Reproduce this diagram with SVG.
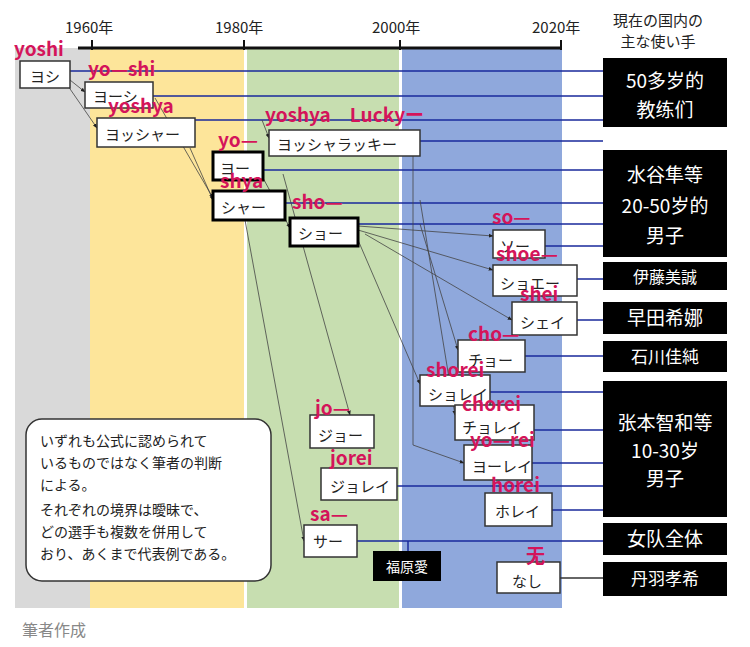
<svg xmlns="http://www.w3.org/2000/svg" width="750" height="647" viewBox="0 0 750 647">
<defs>
<style>
text{font-family:"Noto Sans CJK JP","Noto Sans",sans-serif}
.yr{font-size:15px;fill:#222}
.lb{font-size:19px;font-weight:bold;fill:#d4145a;transform:translateY(-2px)}
.kn{font-size:15px;fill:#222;transform:translateY(1px)}
.nb rect{fill:#fff;stroke:#333;stroke-width:1.5}
.nb.thick rect{stroke:#000;stroke-width:3}
.bk rect{fill:#000}
.bk text{fill:#fff;font-size:19px;text-anchor:middle}
.bl{stroke:#1a2a9c;stroke-width:1.5;fill:none}
.gl{stroke:#444;stroke-width:0.8;fill:none;marker-end:url(#ar)}
.note{font-size:14px;fill:#222}
</style>
<marker id="ar" viewBox="0 0 10 10" refX="9" refY="5" markerWidth="6" markerHeight="6" orient="auto"><path d="M0,1L10,5L0,9z" fill="#222"/></marker>
</defs>
<rect width="750" height="647" fill="#fff"/>
<g id="bands">
<rect x="15" y="48" width="75" height="560" fill="#d9d9d9"/>
<rect x="90" y="48" width="154" height="560" fill="#fde59a"/>
<rect x="247" y="48" width="152" height="560" fill="#c7deb0"/>
<rect x="402" y="48" width="160" height="560" fill="#8fa8dc"/>
</g>
<g id="axis">
<line x1="78" y1="48" x2="562" y2="48" stroke="#111" stroke-width="3"/>
<g stroke="#111" stroke-width="2"><line x1="92" y1="40" x2="92" y2="50"/><line x1="244" y1="40" x2="244" y2="50"/><line x1="400" y1="40" x2="400" y2="50"/><line x1="561" y1="40" x2="561" y2="50"/></g>
<text class="yr" x="65" y="33">1960年</text><text class="yr" x="215" y="33">1980年</text><text class="yr" x="372" y="33">2000年</text><text class="yr" x="532" y="33">2020年</text>
<text x="658" y="26" font-size="15" text-anchor="middle" fill="#222">現在の国内の</text>
<text x="658" y="47" font-size="15" text-anchor="middle" fill="#222">主な使い手</text>
</g>
<g id="connectors">
<path class="bl" d="M70,71H603M153,96H603M195,120H603M420,141H603M263,170H603M285,203H603M358,224H603M545,246H603M577,279H603M577,320H603M525,356H603M490,392H603M534,430H603M532,463H603M397,486H603M552,510H603M357,541H603M408,541V551"/>
<path d="M560,578H603" stroke="#333" stroke-width="1.5"/>
<path class="gl" d="M70,80L85,92"/>
<path class="gl" d="M68,86L97,128"/>
<path class="gl" d="M155,98L213,198"/>
<path class="gl" d="M190,148L213,200"/>
<path class="gl" d="M262,120L269,138"/>
<path class="gl" d="M245,220L304,541"/>
<path class="gl" d="M283,174L350,415"/>
<path class="gl" d="M263,178L290,228"/>
<path class="gl" d="M358,226L493,236"/>
<path class="gl" d="M358,230L493,270"/>
<path class="gl" d="M365,234L512,320"/>
<path class="gl" d="M358,240L420,384"/>
<path class="gl" d="M420,224L458,350"/>
<path class="gl" d="M413,156V445L464,463"/>
<path class="gl" d="M420,200L455,415"/>
</g>
<g id="n-yoshi" class="nb"><rect x="20" y="61" width="50" height="27"/><text class="lb" x="14" y="58">yoshi</text><text class="kn" x="30" y="81">ヨシ</text></g>
<g id="n-yooshi" class="nb"><rect x="85" y="82" width="68" height="26"/><text class="lb" x="88" y="78">yo—shi</text><text class="kn" x="93" y="101">ヨーシ</text></g>
<g id="n-yossha" class="nb"><rect x="97" y="118" width="98" height="29"/><text class="lb" x="108" y="115">yoshya</text><text class="kn" x="105" y="139">ヨッシャー</text></g>
<g id="n-lucky" class="nb"><rect x="269" y="130" width="151" height="26"/><text class="lb" x="265" y="124">yoshya　Luckyー</text><text class="kn" x="277" y="149">ヨッシャラッキー</text></g>
<g id="n-yoo" class="nb thick"><rect x="213" y="152" width="50" height="28"/><text class="lb" x="218" y="149">yo—</text><text class="kn" x="220" y="173">ヨー</text></g>
<g id="n-shaa" class="nb thick"><rect x="213" y="191" width="72" height="29"/><text class="lb" x="220" y="190">shya</text><text class="kn" x="221" y="212">シャー</text></g>
<g id="n-shoo" class="nb thick"><rect x="290" y="218" width="68" height="28"/><text class="lb" x="292" y="211">sho—</text><text class="kn" x="298" y="238">ショー</text></g>
<g id="n-soo" class="nb"><rect x="493" y="230" width="52" height="28"/><text class="lb" x="492" y="226">so—</text><text class="kn" x="500" y="251">ソー</text></g>
<g id="n-shoee" class="nb"><rect x="493" y="265" width="84" height="31"/><text class="lb" x="496" y="263">shoe—</text><text class="kn" x="500" y="288">ショエー</text></g>
<g id="n-shei" class="nb"><rect x="512" y="302" width="65" height="33"/><text class="lb" x="520" y="303">shei</text><text class="kn" x="520" y="327">シェイ</text></g>
<g id="n-choo" class="nb"><rect x="458" y="340" width="67" height="32"/><text class="lb" x="468" y="343">cho—</text><text class="kn" x="468" y="365">チョー</text></g>
<g id="n-shorei" class="nb"><rect x="420" y="375" width="70" height="31"/><text class="lb" x="426" y="379">shorei</text><text class="kn" x="428" y="399">ショレイ</text></g>
<g id="n-chorei" class="nb"><rect x="455" y="405" width="79" height="35"/><text class="lb" x="462" y="413">chorei</text><text class="kn" x="462" y="432">チョレイ</text></g>
<g id="n-yoorei" class="nb"><rect x="464" y="445" width="68" height="35"/><text class="lb" x="470" y="449">yo—rei</text><text class="kn" x="472" y="471">ヨーレイ</text></g>
<g id="n-joo" class="nb"><rect x="310" y="415" width="64" height="33"/><text class="lb" x="315" y="417">jo—</text><text class="kn" x="318" y="440">ジョー</text></g>
<g id="n-jorei" class="nb"><rect x="321" y="468" width="76" height="32"/><text class="lb" x="330" y="467">jorei</text><text class="kn" x="330" y="491">ジョレイ</text></g>
<g id="n-horei" class="nb"><rect x="485" y="493" width="67" height="33"/><text class="lb" x="491" y="494">horei</text><text class="kn" x="495" y="516">ホレイ</text></g>
<g id="n-saa" class="nb"><rect x="304" y="525" width="53" height="32"/><text class="lb" x="310" y="523">sa—</text><text class="kn" x="313" y="546">サー</text></g>
<g id="n-nashi" class="nb"><rect x="497" y="562" width="63" height="31"/><text class="lb" x="526" y="565">无</text><text class="kn" x="512" y="586">なし</text></g>
<g id="n-fukuhara" class="bk"><rect x="373" y="551" width="68" height="30"/><text x="407" y="572" style="font-size:14px">福原愛</text></g>
<g id="u-coach" class="bk"><rect x="603" y="58" width="124" height="69"/><text x="665" y="88">50多岁的</text><text x="665" y="117">教练们</text></g>
<g id="u-mizutani" class="bk"><rect x="603" y="150" width="124" height="107"/><text x="665" y="182">水谷隼等</text><text x="665" y="213">20-50岁的</text><text x="665" y="243">男子</text></g>
<g id="u-ito" class="bk"><rect x="603" y="262" width="124" height="28"/><text x="665" y="283" style="font-size:16px">伊藤美誠</text></g>
<g id="u-hayata" class="bk"><rect x="603" y="302" width="124" height="32"/><text x="665" y="325">早田希娜</text></g>
<g id="u-ishikawa" class="bk"><rect x="603" y="341" width="124" height="31"/><text x="665" y="363" style="font-size:17px">石川佳純</text></g>
<g id="u-harimoto" class="bk"><rect x="603" y="381" width="124" height="136"/><text x="665" y="430">张本智和等</text><text x="665" y="458">10-30岁</text><text x="665" y="486">男子</text></g>
<g id="u-women" class="bk"><rect x="603" y="523" width="124" height="32"/><text x="665" y="546">女队全体</text></g>
<g id="u-niwa" class="bk"><rect x="603" y="562" width="124" height="34"/><text x="665" y="585" style="font-size:17px">丹羽孝希</text></g>
<g id="note">
<rect x="26" y="419" width="245" height="162" rx="16" fill="#fff" stroke="#333" stroke-width="1.5"/>
<text class="note" x="40" y="446">いずれも公式に認められて</text>
<text class="note" x="40" y="468">いるものではなく筆者の判断</text>
<text class="note" x="40" y="490">による。</text>
<text class="note" x="40" y="515">それぞれの境界は曖昧で、</text>
<text class="note" x="40" y="537">どの選手も複数を併用して</text>
<text class="note" x="40" y="559">おり、あくまで代表例である。</text>
</g>
<text x="22" y="636" font-size="16" fill="#888">筆者作成</text>
</svg>
